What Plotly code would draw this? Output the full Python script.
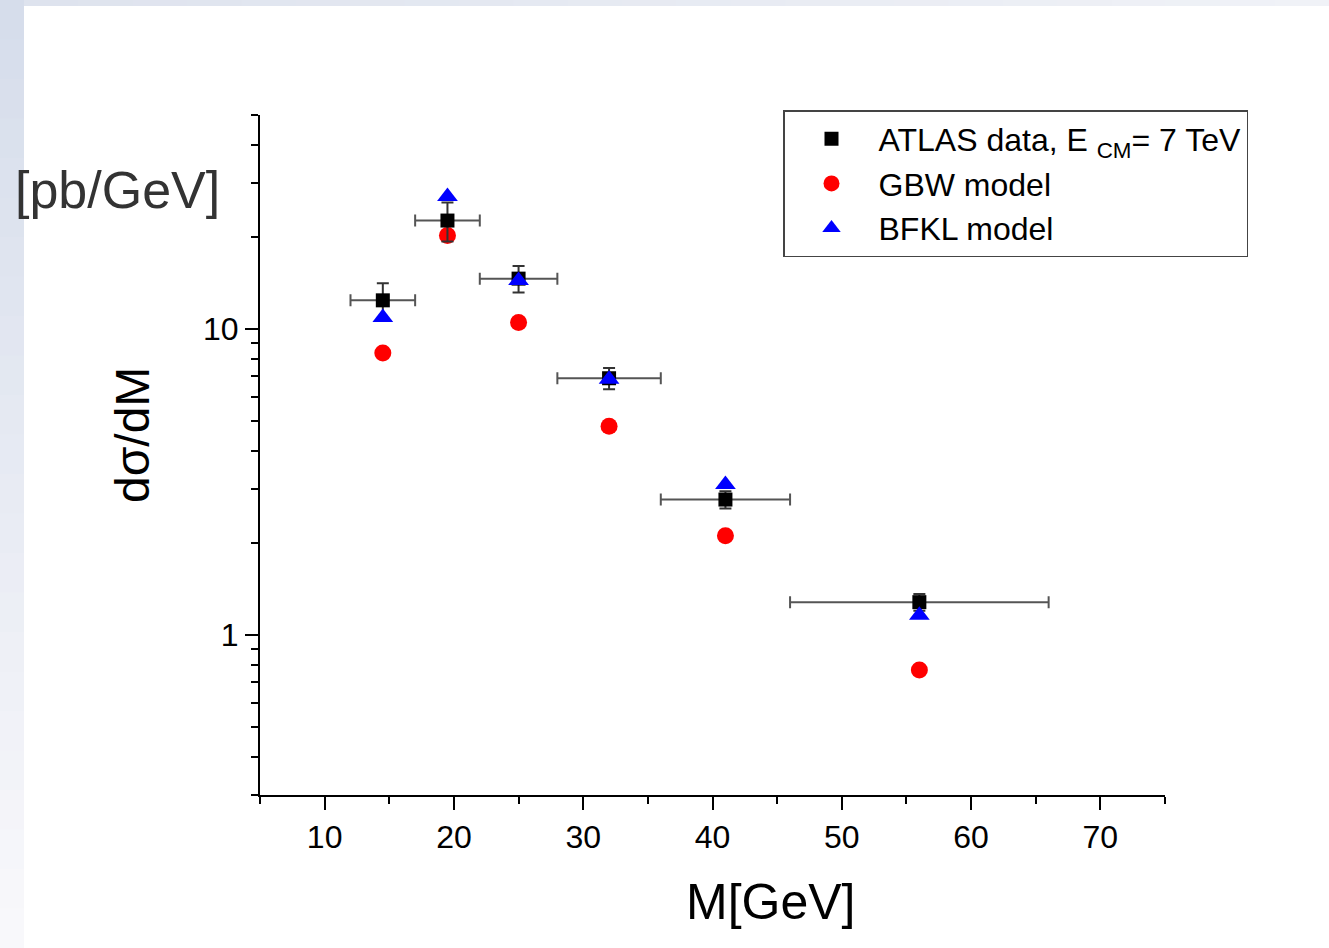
import plotly.graph_objects as go

# ---- data ----
mass = [14.5, 19.5, 25.0, 32.0, 41.0, 56.0]
bin_lo = [12.0, 17.0, 22.0, 28.0, 36.0, 46.0]
bin_hi = [17.0, 22.0, 28.0, 36.0, 46.0, 66.0]
atlas = [12.4, 22.6, 14.6, 6.9, 2.77, 1.28]
atlas_err = [1.7, 3.3, 1.45, 0.55, 0.18, 0.08]
gbw = [8.34, 20.2, 10.5, 4.81, 2.11, 0.768]
bfkl = [10.9, 27.1, 14.4, 6.85, 3.1, 1.16]

x_ticks = [10, 20, 30, 40, 50, 60, 70]
y_ticks = [1, 10]
y_minor = [0.3, 0.4, 0.5, 0.6, 0.7, 0.8, 0.9, 2, 3, 4, 5, 6, 7, 8, 9, 20, 30, 40, 50]

FONT = "Liberation Sans, Arial, Helvetica, sans-serif"

xerr_minus = [m - lo for m, lo in zip(mass, bin_lo)]
xerr_plus = [hi - m for m, hi in zip(mass, bin_hi)]

fig = go.Figure()

fig.add_trace(go.Scatter(
    x=mass, y=gbw, mode="markers", name="GBW model", legendrank=2,
    marker=dict(symbol="circle", size=17, color="#ff0000"),
))
fig.add_trace(go.Scatter(
    x=mass, y=atlas, mode="markers", name="ATLAS data, E <sub>CM</sub>= 7 TeV",
    legendrank=1,
    marker=dict(symbol="square", size=14, color="#000000"),
    error_y=dict(type="data", array=atlas_err, color="#333333", thickness=2, width=6),
    error_x=dict(type="data", array=xerr_plus, arrayminus=xerr_minus, symmetric=False,
                 color="#555555", thickness=2, width=6),
))
fig.add_trace(go.Scatter(
    x=mass, y=bfkl, mode="markers", name="BFKL model", legendrank=3,
    marker=dict(symbol="triangle-up", size=18, color="#0000ff"),
))

# plot area geometry (px)
L, R, T, B = 260, 1165, 115, 795
W, H = 1329, 948
pw, ph = R - L, B - T


def px2x(px):
    return (px - L) / pw


def py2y(py):
    return (B - py) / ph


# decorative gradient frame (left & top strips)
shapes = []
n = 24
c0 = (214, 221, 235)
c1 = (248, 248, 251)
for i in range(n):
    t = i / (n - 1)
    col = tuple(round(c0[k] + (c1[k] - c0[k]) * t) for k in range(3))
    y_top = i * H / n
    y_bot = (i + 1) * H / n + 1
    shapes.append(dict(type="rect", xref="paper", yref="paper",
                       x0=px2x(0), x1=px2x(24), y0=py2y(y_bot), y1=py2y(y_top),
                       line=dict(width=0), fillcolor="rgb(%d,%d,%d)" % col, layer="below"))
c2 = (222, 227, 238)
c3 = (240, 242, 247)
for i in range(n):
    t = i / (n - 1)
    col = tuple(round(c2[k] + (c3[k] - c2[k]) * t) for k in range(3))
    x_l = 24 + i * (W - 24) / n
    x_r = 24 + (i + 1) * (W - 24) / n + 1
    shapes.append(dict(type="rect", xref="paper", yref="paper",
                       x0=px2x(x_l), x1=px2x(x_r), y0=py2y(6), y1=py2y(0),
                       line=dict(width=0), fillcolor="rgb(%d,%d,%d)" % col, layer="below"))

annotations = [
    dict(text="M[GeV]", x=px2x(770), y=py2y(902), xref="paper", yref="paper",
         xanchor="center", yanchor="middle", showarrow=False,
         font=dict(family=FONT, size=50, color="#000000")),
    dict(text="dσ/dM", x=px2x(132), y=py2y(435), xref="paper", yref="paper",
         xanchor="center", yanchor="middle", showarrow=False, textangle=-90,
         font=dict(family=FONT, size=48, color="#000000")),
    dict(text="[pb/GeV]", x=px2x(117), y=py2y(190), xref="paper", yref="paper",
         xanchor="center", yanchor="middle", showarrow=False,
         font=dict(family=FONT, size=52, color="#333333")),
]

fig.update_layout(
    width=W, height=H,
    margin=dict(l=L, r=W - R, t=T, b=H - B, pad=0),
    paper_bgcolor="#ffffff", plot_bgcolor="#ffffff",
    font=dict(family=FONT, color="#000000"),
    showlegend=True,
    legend=dict(
        x=px2x(783), y=py2y(110), xanchor="left", yanchor="top",
        bgcolor="#ffffff", bordercolor="#444444", borderwidth=1.5,
        font=dict(family=FONT, size=32, color="#000000"),
        itemwidth=84, tracegroupgap=0, traceorder="normal",
    ),
    shapes=shapes,
    annotations=annotations,
    xaxis=dict(
        range=[5, 75], tickvals=x_ticks, ticktext=[str(v) for v in x_ticks],
        ticks="outside", ticklen=13, tickwidth=2, tickcolor="#000000",
        showline=True, linecolor="#000000", linewidth=2, mirror=False,
        showgrid=False, zeroline=False,
        tickfont=dict(family=FONT, size=32, color="#000000"),
        minor=dict(tickmode="linear", tick0=5, dtick=10, ticks="outside",
                   ticklen=7, tickwidth=2, tickcolor="#000000", showgrid=False),
    ),
    yaxis=dict(
        type="log", range=[-0.5229, 1.699],
        tickvals=y_ticks, ticktext=[str(v) for v in y_ticks],
        ticks="outside", ticklen=13, tickwidth=2, tickcolor="#000000",
        showline=True, linecolor="#000000", linewidth=2, mirror=False,
        showgrid=False, zeroline=False,
        tickfont=dict(family=FONT, size=32, color="#000000"),
        minor=dict(tickmode="array", tickvals=y_minor, ticks="outside",
                   ticklen=7, tickwidth=2, tickcolor="#000000", showgrid=False),
    ),
)

fig.write_html("out.html", config={"displayModeBar": False},
               post_script="document.body.style.margin='0';document.body.style.padding='0';")
